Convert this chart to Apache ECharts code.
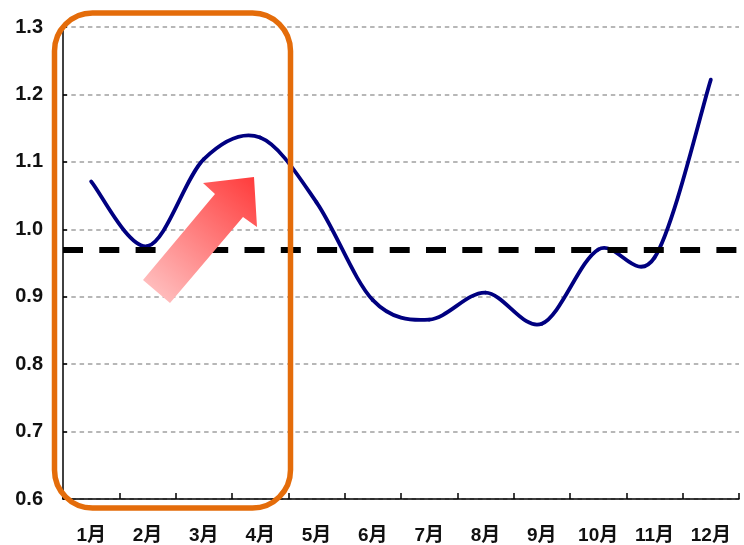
<!DOCTYPE html>
<html>
<head>
<meta charset="utf-8">
<script src="https://cdn.jsdelivr.net/npm/echarts@6/dist/echarts.min.js"></script>
<style>
html,body{margin:0;padding:0;background:#fff;}
#main{width:744px;height:545px;}
</style>
</head>
<body>
<div id="main"></div>
<script>
var months = ['1月','2月','3月','4月','5月','6月','7月','8月','9月','10月','11月','12月'];
var values = [1.071, 0.975, 1.104, 1.136, 1.040, 0.895, 0.866, 0.906, 0.860, 0.970, 0.958, 1.222];
var referenceValue = 0.97;
var yTicks = [0.6, 0.7, 0.8, 0.9, 1.0, 1.1, 1.2, 1.3];

var chart = echarts.init(document.getElementById('main'), null, {renderer:'canvas'});
var fontFam = '"Liberation Sans", Arial, "Noto Sans CJK SC", sans-serif';

// Excel-style smoothed line: each segment is a cubic Bezier between two data
// points, using the library's coordinate conversion for every point.
function renderSegment(params, api) {
  var i = params.dataIndex;
  var n = values.length;
  if (i >= n - 1) return null;
  function pt(k) {
    k = Math.max(0, Math.min(n - 1, k));
    return api.coord([k, values[k]]);
  }
  var p0 = pt(i - 1), p1 = pt(i), p2 = pt(i + 1), p3 = pt(i + 2);
  return {
    type: 'bezierCurve',
    shape: {
      x1: p1[0], y1: p1[1],
      x2: p2[0], y2: p2[1],
      cpx1: p1[0] + (p2[0] - p0[0]) / 6, cpy1: p1[1] + (p2[1] - p0[1]) / 6,
      cpx2: p2[0] - (p3[0] - p1[0]) / 6, cpy2: p2[1] - (p3[1] - p1[1]) / 6
    },
    style: {stroke: '#000080', lineWidth: 3.8, fill: null, lineCap: 'round', lineJoin: 'round'}
  };
}

chart.setOption({
  animation: false,
  backgroundColor: '#ffffff',
  grid: {left: 63, right: 5, top: 27, bottom: 46, containLabel: false},
  xAxis: {
    type: 'category',
    data: months,
    boundaryGap: true,
    axisLine: {show: true, lineStyle: {color: '#000', width: 1.5}},
    axisTick: {show: true, inside: true, length: 6, alignWithLabel: false, lineStyle: {color: '#000', width: 1.5}},
    axisLabel: {color: '#111', fontSize: 19, fontWeight: 'bold', fontFamily: fontFam, margin: 27, interval: 0},
    splitLine: {show: false}
  },
  yAxis: {
    type: 'value',
    min: yTicks[0],
    max: yTicks[yTicks.length - 1],
    interval: 0.1,
    axisLine: {show: true, lineStyle: {color: '#000', width: 1.5}},
    axisTick: {show: true, inside: true, length: 4, lineStyle: {color: '#000', width: 1.5}},
    axisLabel: {color: '#111', fontSize: 20, fontWeight: 'bold', fontFamily: fontFam, margin: 20,
      formatter: function (v) { return v.toFixed(1); }},
    splitLine: {show: true, lineStyle: {color: '#a0a0a0', width: 1.5, type: [4.5, 3.8]}}
  },
  series: [{
    type: 'custom',
    name: 'value',
    data: values.map(function (v, i) { return [i, v]; }),
    encode: {x: 0, y: 1},
    renderItem: renderSegment,
    z: 3,
    markLine: {
      silent: true,
      symbol: 'none',
      label: {show: false},
      lineStyle: {color: '#000', width: 6, type: [20, 16.3]},
      data: [{yAxis: referenceValue}]
    }
  }],
  graphic: [
    {
      type: 'polygon',
      z: 10,
      shape: {points: [[143,280],[215,194],[203,183],[254,177],[257,227],[243,217],[170,303]]},
      style: {
        fill: new echarts.graphic.LinearGradient(0, 1, 1, 0, [
          {offset: 0, color: '#ffcaca'},
          {offset: 1, color: '#ff3a3a'}
        ], false)
      }
    },
    {
      type: 'rect',
      z: 11,
      shape: {x: 54.5, y: 13, width: 236, height: 495, r: 38},
      style: {fill: 'none', stroke: '#e46c0a', lineWidth: 5.5}
    }
  ]
});
</script>
</body>
</html>
